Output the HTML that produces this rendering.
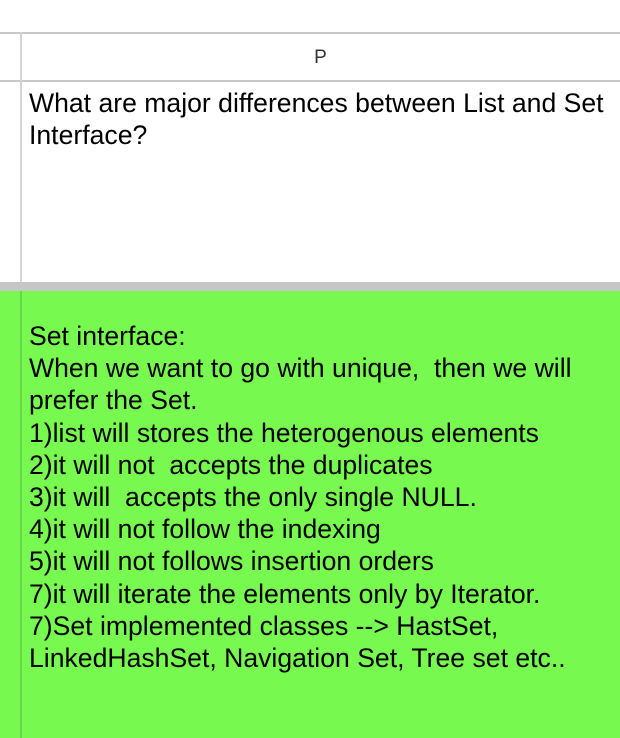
<!DOCTYPE html>
<html><head><style>
body{margin:0;width:620px;height:738px;position:relative;background:#fff;overflow:hidden;font-family:"Liberation Sans",Arial,sans-serif;}
.a{position:absolute;}
.t{position:absolute;left:29px;font-size:26.6px;line-height:32.2px;color:#000;white-space:nowrap;}
</style></head><body>
<div class="a" style="left:0;top:32px;width:620px;height:2px;background:#c8c8c8"></div>
<div class="a" style="left:0;top:80px;width:620px;height:2px;background:#c8c8c8"></div>
<div class="a" style="left:20px;top:32px;width:2px;height:250px;background:#d4d4d4"></div>
<div class="a" style="left:0;top:34px;width:620px;height:46px;font-size:19px;line-height:48px;text-align:center;padding-left:21px;box-sizing:border-box;color:#333">P</div>
<div class="t" style="top:87px">What are major differences between List and Set<br>Interface?</div>
<div class="a" style="left:0;top:282px;width:620px;height:9px;background:#c6c6c6"></div>
<div class="a" style="left:0;top:291px;width:620px;height:447px;background:#77f94f"></div>
<div class="a" style="left:20px;top:291px;width:2px;height:447px;background:#6ad846"></div>
<div class="t" style="top:320px">Set interface:<br>When we want to go with unique,&nbsp; then we will<br>prefer the Set.<br>1)list will stores the heterogenous elements<br>2)it will not&nbsp; accepts the duplicates<br>3)it will&nbsp; accepts the only single NULL.<br>4)it will not follow the indexing<br>5)it will not follows insertion orders<br>7)it will iterate the elements only by Iterator.<br>7)Set implemented classes --&gt; HastSet,<br>LinkedHashSet, Navigation Set, Tree set etc..</div>
</body></html>
